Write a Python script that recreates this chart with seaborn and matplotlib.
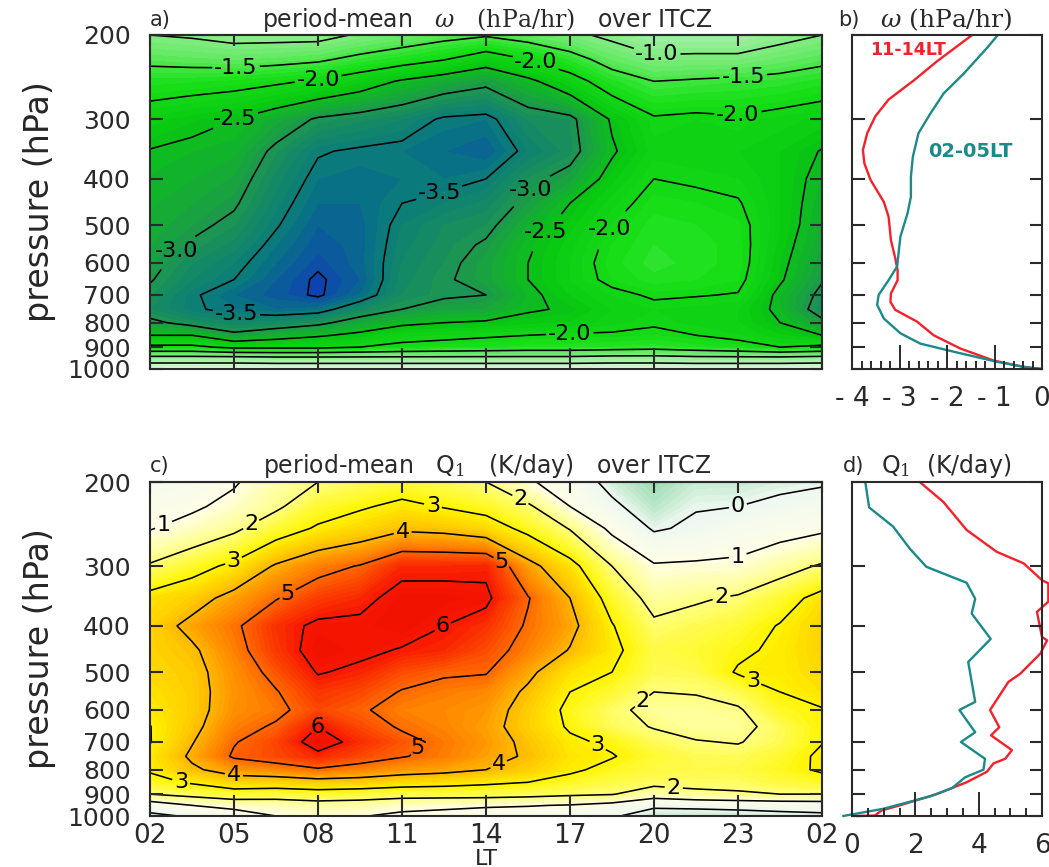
#!/usr/bin/env python3
"""Period-mean omega and Q1 over the ITCZ: time-pressure sections and profiles."""

import matplotlib.pyplot as plt
import numpy as np
import seaborn as sns
from matplotlib.ticker import NullFormatter, NullLocator

# hours since 02 LT, one column every 1.5 h
HOURS = [0, 1.5, 3, 4.5, 6, 7.5, 9, 10.5, 12, 13.5, 15, 16.5, 18, 19.5, 21, 22.5, 24]
LT_TICKS = [0, 3, 6, 9, 12, 15, 18, 21, 24]
LT_LABELS = ["02", "05", "08", "11", "14", "17", "20", "23", "02"]
P_LEVELS = [200, 225, 250, 300, 350, 400, 450, 500, 550, 600, 650, 700, 750, 800, 850, 900, 950, 1000]
P_TICKS = [200, 300, 400, 500, 600, 700, 800, 900, 1000]

# one list per LT column, top to bottom
OMEGA_COLUMNS = [
    [-1.0, -1.39, -1.76, -2.24, -2.52, -2.62, -2.68, -2.73, -2.8, -2.88, -2.97, -3.1, -3.2, -2.9, -2.5, -1.9, -.8, -.1],
    [-.95, -1.34, -1.79, -2.38, -2.6, -2.7, -2.8, -2.9, -3.05, -3.2, -3.3, -3.45, -3.45, -3.15, -2.5, -1.9, -.8, -.1],
    [-.85, -1.3, -1.84, -2.5, -2.67, -2.82, -2.95, -3.1, -3.25, -3.4, -3.5, -3.7, -3.6, -3.3, -2.9, -2.1, -.8, -.1],
    [-.85, -1.35, -1.93, -2.75, -3.09, -3.25, -3.37, -3.47, -3.6, -3.7, -3.8, -3.85, -3.7, -3.25, -2.7, -2.1, -.85, -.1],
    [-.85, -1.43, -2.05, -3.05, -3.47, -3.6, -3.7, -3.8, -3.87, -3.95, -4.05, -4.05, -3.65, -3.1, -2.55, -2.1, -.85, -.1],
    [-1.05, -1.63, -2.27, -3.17, -3.55, -3.65, -3.7, -3.75, -3.75, -3.75, -3.8, -3.7, -3.25, -2.8, -2.4, -2.0, -.85, -.1],
    [-1.2, -1.8, -2.55, -3.3, -3.6, -3.6, -3.5, -3.4, -3.35, -3.3, -3.25, -3.2, -3.0, -2.6, -2.15, -1.9, -.85, -.1],
    [-1.35, -1.98, -2.75, -3.55, -3.7, -3.6, -3.4, -3.2, -3.15, -3.1, -3.05, -3.05, -2.85, -2.5, -2.1, -1.85, -.85, -.1],
    [-1.45, -2.28, -2.9, -3.6, -3.8, -3.5, -3.27, -3.1, -2.95, -2.85, -2.85, -3.0, -2.8, -2.45, -2.05, -1.8, -.85, -.1],
    [-1.3, -2.0, -2.6, -3.2, -3.4, -3.1, -2.9, -2.7, -2.55, -2.5, -2.5, -2.6, -2.55, -2.35, -2.0, -1.75, -.85, -.1],
    [-1.1, -1.7, -2.2, -3.1, -3.15, -2.85, -2.5, -2.35, -2.25, -2.2, -2.2, -2.3, -2.45, -2.3, -1.95, -1.75, -.85, -.1],
    [-.9, -1.3, -1.75, -2.45, -2.55, -2.35, -2.15, -2.0, -1.9, -1.85, -1.9, -2.1, -2.2, -2.15, -1.95, -1.7, -.8, -.1],
    [-.7, -1.08, -1.5, -2.05, -2.15, -2.0, -1.85, -1.75, -1.7, -1.65, -1.75, -1.95, -2.1, -2.05, -1.9, -1.65, -.8, -.1],
    [-.7, -1.1, -1.55, -2.1, -2.2, -2.05, -1.9, -1.8, -1.75, -1.75, -1.8, -1.98, -2.15, -2.15, -2.0, -1.75, -.85, -.1],
    [-.7, -1.1, -1.6, -2.05, -2.2, -2.1, -1.97, -1.88, -1.85, -1.85, -1.9, -2.02, -2.2, -2.2, -2.1, -1.85, -.85, -.1],
    [-.85, -1.25, -1.65, -2.15, -2.3, -2.3, -2.3, -2.3, -2.35, -2.4, -2.45, -2.6, -2.6, -2.5, -2.3, -2.0, -.85, -.1],
    [-1.0, -1.39, -1.76, -2.24, -2.52, -2.62, -2.68, -2.73, -2.8, -2.88, -2.97, -3.1, -3.2, -2.9, -2.5, -1.9, -.8, -.1],
]

Q1_COLUMNS = [
    [.4, .7, .95, 2.1, 3.3, 3.55, 3.55, 3.45, 3.3, 3.15, 2.98, 2.97, 3.15, 3.1, 2.7, 2.0, .45, -.2],
    [.55, .85, 1.35, 2.66, 3.63, 4.25, 3.85, 3.7, 3.65, 3.65, 3.75, 3.95, 4.15, 3.85, 3.1, 2.3, 1.0, .1],
    [.9, 1.28, 1.83, 3.2, 4.3, 4.85, 4.7, 4.5, 4.45, 4.5, 4.7, 4.95, 5.1, 4.4, 3.5, 2.6, 1.3, .5],
    [1.6, 1.85, 2.55, 4.1, 4.95, 5.7, 5.6, 5.25, 4.95, 4.8, 5.1, 5.45, 5.4, 4.6, 3.5, 2.5, 1.4, 1.0],
    [2.0, 2.6, 3.1, 4.7, 5.55, 6.15, 6.3, 6.05, 5.65, 5.4, 6.0, 6.35, 5.8, 4.9, 3.65, 2.6, 1.6, 1.2],
    [2.25, 2.9, 3.45, 5.05, 5.8, 6.15, 6.15, 5.85, 5.4, 5.1, 5.4, 5.75, 5.4, 4.65, 3.6, 2.5, 1.55, 1.05],
    [2.55, 3.2, 3.85, 5.8, 6.25, 6.3, 5.95, 5.35, 4.95, 4.7, 4.9, 5.25, 5.05, 4.4, 3.4, 2.4, 1.3, .8],
    [2.3, 2.95, 3.75, 5.8, 6.25, 6.0, 5.8, 5.1, 4.75, 4.6, 4.65, 4.8, 4.75, 4.25, 3.3, 2.4, 1.2, .7],
    [2.0, 2.7, 3.45, 5.85, 6.15, 5.7, 5.35, 5.05, 4.6, 4.4, 4.3, 4.4, 4.3, 4.0, 3.15, 2.4, 1.1, .6],
    [1.1, 2.15, 2.75, 4.3, 5.05, 4.9, 4.7, 4.2, 3.85, 3.65, 3.6, 3.8, 3.9, 3.6, 3.0, 2.3, 1.05, .5],
    [.6, 1.0, 1.95, 3.3, 4.0, 4.25, 3.95, 3.3, 3.0, 2.8, 2.9, 3.15, 3.25, 3.15, 2.7, 2.15, .95, .3],
    [-.3, .2, .8, 2.0, 2.65, 3.05, 3.2, 3.0, 2.6, 2.2, 2.3, 2.85, 3.05, 2.75, 2.45, 2.05, .7, .1],
    [-.9, -.55, -.1, 1.1, 1.7, 2.15, 2.45, 2.35, 2.0, 1.75, 1.95, 2.3, 2.6, 2.5, 2.25, 1.5, .15, -.4],
    [-.4, -.05, .15, 1.15, 1.9, 2.35, 2.6, 2.4, 2.05, 1.75, 1.7, 2.05, 2.35, 2.4, 2.25, 1.8, .2, -.4],
    [-.4, 0, .45, 1.2, 2.1, 2.6, 2.85, 3.08, 2.35, 1.9, 1.75, 1.95, 2.3, 2.45, 2.25, 1.9, .3, -.4],
    [-.2, .2, .65, 1.65, 2.6, 3.05, 3.15, 3.15, 3.0, 2.7, 2.3, 2.35, 2.6, 2.75, 2.5, 2.0, .4, -.3],
    [-.1, .4, .85, 2.1, 3.3, 3.55, 3.55, 3.45, 3.3, 2.95, 2.98, 2.97, 3.15, 3.1, 2.7, 2.0, .45, -.2],
]

# profiles: pressure and value for the two LT windows
OMEGA_DAY_P = [200, 227, 249, 273, 296, 321, 348, 371, 402, 447, 480, 538, 586, 621, 652, 695, 724, 752, 796, 850, 906, 960, 990, 1000]
OMEGA_DAY = [-1.47, -2.21, -2.7, -3.23, -3.51, -3.68, -3.77, -3.74, -3.61, -3.33, -3.23, -3.18, -3.09, -3.04, -3.04, -3.18, -3.19, -3.09, -2.63, -2.28, -1.72, -1.02, -.39, -.03]
OMEGA_NIGHT_P = [200, 213, 241, 265, 292, 321, 360, 396, 436, 472, 528, 572, 610, 652, 700, 734, 784, 842, 885, 920, 966, 992, 1000]
OMEGA_NIGHT = [-.93, -1.16, -1.65, -2.07, -2.35, -2.6, -2.72, -2.76, -2.76, -2.83, -2.98, -3.02, -3.05, -3.23, -3.44, -3.47, -3.33, -2.98, -2.56, -1.86, -.95, -.32, 0]
Q1_DAY_P = [200, 220, 252, 280, 296, 321, 326, 356, 374, 422, 429, 457, 504, 524, 600, 652, 678, 728, 759, 776, 808, 850, 900, 950, 974, 998, 1000]
Q1_DAY = [2.14, 2.88, 3.62, 4.57, 5.42, 6.0, 6.2, 6.2, 5.84, 6.0, 6.16, 5.95, 5.31, 4.94, 4.36, 4.65, 4.39, 5.05, 4.84, 4.47, 4.26, 3.62, 2.67, 1.51, .93, .72, .14]
Q1_NIGHT_P = [200, 226, 248, 276, 301, 325, 351, 377, 426, 476, 577, 600, 668, 700, 759, 800, 830, 875, 910, 966, 1000]
Q1_NIGHT = [.42, .54, 1.3, 1.83, 2.35, 3.62, 3.89, 3.78, 4.38, 3.67, 3.89, 3.39, 3.89, 3.44, 4.2, 4.15, 3.57, 3.15, 2.46, .98, -.28]

RED = "#f5202a"
TEAL = "#1a8a8a"
INK = "#2a2a2a"
W, H = 1049, 867

sns.set_theme(style="ticks")
plt.rcParams.update({
    "font.family": ["DejaVu Sans"],
    "mathtext.fontset": "dejavuserif",
    "axes.unicode_minus": False,
    "axes.edgecolor": INK,
    "axes.linewidth": 1.5,
    "axes.axisbelow": False,
    "text.color": INK,
    "xtick.color": INK,
    "ytick.color": INK,
    "contour.negative_linestyle": "solid",
})

omega_cmap = sns.blend_palette(
    ["#1030c0", "#087880", "#1e9650", "#08c810", "#18e018", "#6eeb6e", "#aaf0aa", "#ebfaeb"], as_cmap=True)
q1_cmap = sns.blend_palette(
    ["#8fd8a8", "#eef8f0", "#fffee6", "#ffff80", "#fff500", "#ffb800", "#ff6a00", "#f81800", "#e00000"], as_cmap=True)


def add_axes(fig, left, top, right, bottom):
    return fig.add_axes([left / W, 1 - bottom / H, (right - left) / W, (bottom - top) / H])


def pressure_axis(ax, labelled):
    ax.set_yscale("log")
    ax.set_ylim(1000, 200)
    ax.set_yticks(P_TICKS)
    ax.yaxis.set_minor_locator(NullLocator())
    ax.yaxis.set_minor_formatter(NullFormatter())
    ax.tick_params(axis="y", direction="in", left=True, right=True, length=9, width=1.5, pad=14)
    if labelled:
        ax.set_yticklabels([str(p) for p in P_TICKS], fontsize=18)
        ax.set_ylabel("pressure (hPa)", fontsize=24, labelpad=8)
    else:
        ax.set_yticklabels([])


def section(ax, columns, cmap, vmin, vmax, line_levels, labels, fmt):
    field = np.array(columns).T
    ax.contourf(HOURS, P_LEVELS, field, levels=np.arange(vmin, vmax + .05, .1), cmap=cmap,
                vmin=vmin, vmax=vmax, extend="both")
    plain = [lev for lev in line_levels if lev not in labels]
    ax.contour(HOURS, P_LEVELS, field, levels=plain, colors="black", linewidths=1.15)
    pressure_axis(ax, True)
    ax.set_xlim(0, 24)
    ax.set_xticks(LT_TICKS)
    ax.tick_params(axis="x", direction="in", length=15, width=1.5, labelbottom=False)
    top = ax.secondary_xaxis("top")
    top.set_zorder(3)
    top.set_xticks(LT_TICKS)
    top.tick_params(axis="x", direction="in", length=8, width=1.5, labeltop=False)
    for level, spots in labels.items():
        cs = ax.contour(HOURS, P_LEVELS, field, levels=[level], colors="black", linewidths=1.15)
        for txt in ax.clabel(cs, manual=spots, fmt=fmt, fontsize=16, inline=True, inline_spacing=2):
            txt.set_rotation(0)
            txt.set_color("black")


def profile(ax, xlim, major, major_labels, minor, day, night):
    sns.lineplot(x=day[0], y=day[1], sort=False, estimator=None, color=RED, linewidth=1.7, ax=ax, clip_on=False)
    sns.lineplot(x=night[0], y=night[1], sort=False, estimator=None, color=TEAL, linewidth=1.7, ax=ax, clip_on=False)
    pressure_axis(ax, False)
    ax.set_xlim(*xlim)
    ax.set_xticks(major, major_labels, fontsize=19)
    ax.set_xticks(minor, minor=True)
    ax.tick_params(axis="x", which="major", direction="in", length=17, width=1.4, pad=12)
    ax.tick_params(axis="x", which="minor", direction="in", bottom=True, length=6, width=1.4)
    ax.set_xlabel("")
    ax.set_ylabel("")


fig = plt.figure(figsize=(W / 100, H / 100), dpi=100, facecolor="white")
ax_a = add_axes(fig, 150, 35, 822, 369)
ax_b = add_axes(fig, 852, 35, 1042, 369)
ax_c = add_axes(fig, 150, 482, 822, 816)
ax_d = add_axes(fig, 852, 482, 1042, 816)

section(ax_a, OMEGA_COLUMNS, omega_cmap, -4.2, 0, list(np.arange(-4, 0, .5)), {
    -1.0: [(18.1, 222)],
    -1.5: [(3.08, 238), (21.2, 250)],
    -2.0: [(6.02, 250), (13.8, 226), (21.0, 294), (16.6, 516), (15.0, 856)],
    -2.5: [(3.08, 307), (14.2, 520)],
    -3.0: [(1.27, 591), (13.6, 422)],
    -3.5: [(3.08, 783), (10.3, 422)],
}, "%.1f")
section(ax_c, Q1_COLUMNS, q1_cmap, -1, 7, list(np.arange(0, 7, 1)), {
    0: [(21.0, 225)],
    1: [(.52, 249), (21.0, 287)],
    2: [(3.69, 250), (13.1, 225), (20.4, 346), (17.5, 567), (18.7, 882)],
    3: [(3.01, 295), (10.1, 225), (21.7, 493), (16.0, 710), (1.09, 855)],
    4: [(9.02, 254), (12.5, 791), (3.0, 820)],
    5: [(4.93, 344), (12.5, 298), (9.7, 737)],
    6: [(10.4, 395), (6.0, 650)],
}, "%d")
ax_c.set_xticklabels(LT_LABELS, fontsize=19)
ax_c.tick_params(axis="x", labelbottom=True, pad=5)
ax_c.set_xlabel("LT", fontsize=16, labelpad=0)

profile(ax_b, (-4, 0), [-4, -3, -2, -1, 0], ["- 4", "- 3", "- 2", "- 1", "0"], np.arange(-4, 0, .2),
        (OMEGA_DAY, OMEGA_DAY_P), (OMEGA_NIGHT, OMEGA_NIGHT_P))
profile(ax_d, (0, 6), [0, 2, 4, 6], ["0", "2", "4", "6"], np.arange(0, 6, .5),
        (Q1_DAY, Q1_DAY_P), (Q1_NIGHT, Q1_NIGHT_P))
ax_b.text(-3.62, 215, "11-14LT", color=RED, fontsize=12.5, fontweight="bold", va="center")
ax_b.text(-2.4, 350, "02-05LT", color=TEAL, fontsize=14, fontweight="bold", va="center")

fig.text(150 / W, 1 - 20 / H, "a)", fontsize=15, va="center")
fig.text(487 / W, 1 - 20 / H, r"period-mean   $\omega$   $\mathrm{(hPa/hr)}$   over ITCZ", fontsize=17, ha="center", va="center")
fig.text(838 / W, 1 - 20 / H, "b)", fontsize=15, va="center")
fig.text(946 / W, 1 - 20 / H, r"$\omega$ $\mathrm{(hPa/hr)}$", fontsize=18, ha="center", va="center")
fig.text(150 / W, 1 - 466 / H, "c)", fontsize=15, va="center")
fig.text(487 / W, 1 - 466 / H, r"period-mean   Q$_1$   (K/day)   over ITCZ", fontsize=17, ha="center", va="center")
fig.text(843 / W, 1 - 466 / H, "d)", fontsize=15, va="center")
fig.text(946 / W, 1 - 466 / H, r"Q$_1$  (K/day)", fontsize=17, ha="center", va="center")

fig.savefig("out.png", dpi=100, facecolor="white")
